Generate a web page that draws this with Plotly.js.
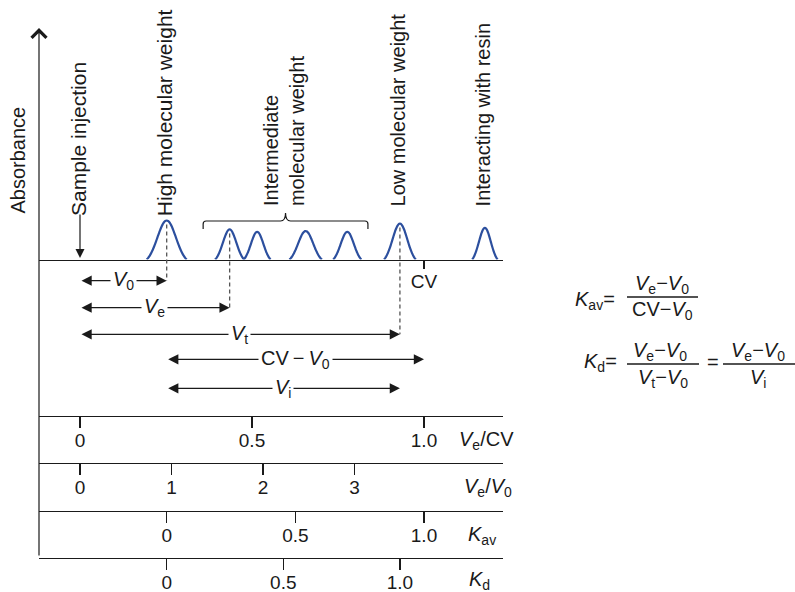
<!DOCTYPE html>
<html>
<head>
<meta charset="utf-8">
<script src="https://cdn.plot.ly/plotly-3.0.1.min.js"></script>
<style>
  html, body { margin: 0; padding: 0; background: #fff; }
  #chart { width: 795px; height: 592px; }
</style>
</head>
<body>
<div id="chart"></div>
<script>
// ---- Elution data, in units of column volume (Ve/CV) ----
const injection = 0;
const columnVolume = 1.0;
const peakCenters    = [0.252, 0.435, 0.515, 0.656, 0.777, 0.930, 1.177];
const peakHeights    = [1.00, 0.77, 0.71, 0.73, 0.71, 0.92, 0.81];
const peakHalfWidths = [0.058, 0.042, 0.039, 0.047, 0.041, 0.046, 0.037];
const intermediateSpan = [0.358, 0.837];   // extent of the bracket over the intermediate peaks

const V0 = peakCenters[0];   // void volume: excluded, high molecular weight
const Ve = peakCenters[1];   // example elution volume
const Vt = peakCenters[5];   // total permeation: low molecular weight

// ---- Scales drawn under the chromatogram ----
const veCvTicks = [0, 0.5, 1.0];   const veCvText = ['0', '0.5', '1.0'];
const veV0Ticks = [0, 1, 2, 3];    const veV0Text = ['0', '1', '2', '3'];
const kavTicks  = [0, 0.5, 1.0];   const kavText  = ['0', '0.5', '1.0'];
const kdTicks   = [0, 0.5, 1.0];   const kdText   = ['0', '0.5', '1.0'];
const veV0Spacing = 0.266;         // Ve/CV distance between successive Ve/V0 marks

// ---- Page geometry ----
const W = 795, H = 592;
const px = x => x / W;        // pixel column -> paper
const py = y => 1 - y / H;    // pixel row -> paper
const font = 'Liberation Sans, Arial, Helvetica, sans-serif';
const ink = '#1a1a1a';
const blue = '#2c4f9e';

const frameLeft = 39, frameRight = 503, baselineRow = 259.5;
const originCol = 80, pxPerUnit = 344, pxPerAbs = 39;
const xRange = [(frameLeft - originCol) / pxPerUnit, (frameRight - originCol) / pxPerUnit];
const xDomain = [px(frameLeft), px(frameRight)];

// ---- Peak outlines: Gaussian bands cut at about two sigma ----
function peakCurve(c, h, w) {
  const k = 2.15, n = 48, e0 = Math.exp(-k * k / 2);
  const xs = [], ys = [];
  for (let i = 0; i <= n; i++) {
    const u = -1 + 2 * i / n;
    xs.push(c + u * w);
    ys.push(h * (Math.exp(-(k * u) * (k * u) / 2) - e0) / (1 - e0));
  }
  return { xs, ys };
}

const traces = peakCenters.map((c, i) => {
  const p = peakCurve(c, peakHeights[i], peakHalfWidths[i]);
  return {
    type: 'scatter', mode: 'lines', x: p.xs, y: p.ys,
    xaxis: 'x', yaxis: 'y',
    line: { color: blue, width: 2.2, shape: 'spline' },
    hoverinfo: 'skip', showlegend: false
  };
});

// hold each scale axis
[['x2', veCvTicks], ['x3', veV0Ticks], ['x4', kavTicks], ['x5', kdTicks]].forEach(([ax, t]) => {
  traces.push({ type: 'scatter', mode: 'markers', x: t, y: t.map(() => null),
    xaxis: ax, yaxis: 'y', hoverinfo: 'skip', showlegend: false });
});

function scaleAxis(row, range, tickvals, ticktext) {
  return {
    domain: xDomain, range, overlaying: 'x', anchor: 'free', position: py(row), side: 'bottom',
    showline: true, linecolor: ink, linewidth: 1.3,
    ticks: 'outside', ticklen: 11, tickwidth: 1.3, tickcolor: ink,
    ticklabelstandoff: -4,
    tickvals, ticktext, tickfont: { family: font, size: 19, color: ink },
    showgrid: false, zeroline: false, fixedrange: true
  };
}

const kavRange = xRange.map(v => (v - V0) / (columnVolume - V0));
const kdRange  = xRange.map(v => (v - V0) / (Vt - V0));
const veV0Range = xRange.map(v => v / veV0Spacing);

// ---- Annotations ----
const ann = [];
const txt = (text, x, y, opt) => Object.assign({
  text, x, y, xref: 'paper', yref: 'paper', showarrow: false,
  xanchor: 'center', yanchor: 'middle',
  font: { family: font, size: 20, color: ink }, borderpad: 0
}, opt || {});
const f20 = { family: font, size: 20, color: ink };
const f21 = { family: font, size: 21, color: ink };
const upright = (font) => ({ textangle: -90, yanchor: 'bottom', xshift: -2, font });

// vertical axis with open arrow head
ann.push({ x: px(frameLeft), y: py(28), xref: 'paper', yref: 'paper', ax: 0, ay: 529,
  axref: 'pixel', ayref: 'pixel', text: '', showarrow: true, arrowhead: 4,
  arrowsize: 2.4, arrowwidth: 1.2, arrowcolor: ink, standoff: 0 });
ann.push(txt('Absorbance', px(19), py(215), upright(f20)));

// sample injection marker
ann.push({ x: injection, y: py(258), xref: 'x', yref: 'paper', ax: 0, ay: -45,
  axref: 'pixel', ayref: 'pixel', text: '', showarrow: true, arrowhead: 2,
  arrowsize: 1.5, arrowwidth: 1.2, arrowcolor: ink, standoff: 0 });
ann.push(txt('Sample injection', injection, py(217), Object.assign({ xref: 'x' }, upright(f21))));

// peak group labels
const braceMid = (intermediateSpan[0] + intermediateSpan[1]) / 2;
ann.push(txt('High molecular weight', V0, py(217), Object.assign({ xref: 'x' }, upright(f21))));
ann.push(txt('Intermediate<br>molecular weight', braceMid, py(207), Object.assign({ xref: 'x', align: 'left' }, upright(f20))));
ann.push(txt('Low molecular weight', Vt, py(207), Object.assign({ xref: 'x' }, upright(f20))));
ann.push(txt('Interacting with resin', peakCenters[6], py(207), Object.assign({ xref: 'x' }, upright(f20))));

// volume spans
const spans = [
  { label: '<i>V</i><sub>0</sub>', from: injection, to: V0, row: 280.7 },
  { label: '<i>V</i><sub>e</sub>', from: injection, to: Ve, row: 307.7 },
  { label: '<i>V</i><sub>t</sub>', from: injection, to: Vt, row: 334.3 },
  { label: 'CV\u2009\u2212\u2009<i>V</i><sub>0</sub>', from: V0, to: columnVolume, row: 359.3 },
  { label: '<i>V</i><sub>i</sub>', from: V0, to: Vt, row: 388.3 }
];
spans.forEach(s => {
  ann.push({ x: s.to, y: py(s.row), xref: 'x', yref: 'paper', ax: s.from, ay: 0,
    axref: 'x', ayref: 'pixel', text: '', showarrow: true, arrowside: 'end+start',
    arrowhead: 2, startarrowhead: 2, arrowsize: 1.7, startarrowsize: 1.7,
    arrowwidth: 1.2, arrowcolor: ink, standoff: 0, startstandoff: 0 });
});
spans.forEach(s => {
  ann.push(txt(s.label, (s.from + s.to) / 2, py(s.row), { xref: 'x', bgcolor: '#ffffff', borderpad: 2 }));
});

// scale names
ann.push(txt('<i>V</i><sub>e</sub>/CV', px(458), py(440), { xanchor: 'left' }));
ann.push(txt('<i>V</i><sub>e</sub>/<i>V</i><sub>0</sub>', px(463), py(487), { xanchor: 'left' }));
ann.push(txt('<i>K</i><sub>av</sub>', px(467), py(535), { xanchor: 'left' }));
ann.push(txt('<i>K</i><sub>d</sub>', px(468), py(580), { xanchor: 'left' }));

// definitions
const num = '<i>V</i><sub>e</sub>\u2212<i>V</i><sub>0</sub>';
ann.push(txt('<i>K</i><sub>av</sub>=', px(616), py(300), { xanchor: 'right' }));
ann.push(txt(num, px(662), py(284)));
ann.push(txt('CV\u2212<i>V</i><sub>0</sub>', px(662), py(310)));
ann.push(txt('<i>K</i><sub>d</sub>=', px(618), py(362), { xanchor: 'right' }));
ann.push(txt(num, px(660), py(351)));
ann.push(txt('<i>V</i><sub>t</sub>\u2212<i>V</i><sub>0</sub>', px(663), py(378)));
ann.push(txt('=', px(713), py(362)));
ann.push(txt(num, px(758), py(351)));
ann.push(txt('<i>V</i><sub>i</sub>', px(758), py(378)));

// ---- Shapes ----
const shapes = [];
const peakTopRow = h => baselineRow - h * pxPerAbs;
[[V0, peakHeights[0], 280.7], [Ve, peakHeights[1], 307.7], [Vt, peakHeights[5], 334.3]].forEach(([x, h, row]) => {
  shapes.push({ type: 'line', xref: 'x', yref: 'paper', x0: x, x1: x,
    y0: py(peakTopRow(h) + 4), y1: py(row),
    line: { color: '#555', width: 1.3, dash: '4px,3px' } });
});

// bracket over intermediate peaks
(function () {
  const [a, b] = intermediateSpan, m = braceMid;
  const r = 3 / pxPerUnit, r2 = 5 / pxPerUnit;
  const yTop = py(221), yEnd = py(229), yTip = py(213), yR = py(224);
  const path = `M${a},${yEnd} L${a},${yR} Q${a},${yTop} ${a + r},${yTop} L${m - r2},${yTop} ` +
    `Q${m},${yTop} ${m},${yTip} Q${m},${yTop} ${m + r2},${yTop} L${b - r},${yTop} ` +
    `Q${b},${yTop} ${b},${yR} L${b},${yEnd}`;
  shapes.push({ type: 'path', xref: 'x', yref: 'paper', path, line: { color: ink, width: 1.2 } });
})();

// fraction bars
[[627, 698, 297], [627, 699, 364], [723, 795, 364]].forEach(([x0, x1, y]) => {
  shapes.push({ type: 'line', xref: 'paper', yref: 'paper', x0: px(x0), x1: px(x1), y0: py(y), y1: py(y),
    line: { color: ink, width: 1.3 } });
});

const layout = {
  width: W, height: H, margin: { l: 0, r: 0, t: 0, b: 0 },
  paper_bgcolor: '#fff', plot_bgcolor: 'rgba(0,0,0,0)', showlegend: false,
  xaxis: {
    domain: xDomain, range: xRange, anchor: 'y',
    showline: true, linecolor: ink, linewidth: 1.3,
    ticks: 'outside', ticklen: 8, tickwidth: 1.3, tickcolor: ink,
    ticklabelstandoff: -4,
    tickvals: [columnVolume], ticktext: ['CV'],
    tickfont: { family: font, size: 19, color: ink },
    showgrid: false, zeroline: false, fixedrange: true
  },
  yaxis: {
    domain: [py(baselineRow), 1], range: [0, baselineRow / pxPerAbs],
    visible: false, fixedrange: true
  },
  xaxis2: scaleAxis(415.5, xRange, veCvTicks, veCvText),
  xaxis3: scaleAxis(463, veV0Range, veV0Ticks, veV0Text),
  xaxis4: scaleAxis(511, kavRange, kavTicks, kavText),
  xaxis5: scaleAxis(557.5, kdRange, kdTicks, kdText),
  annotations: ann,
  shapes: shapes
};

Plotly.newPlot('chart', traces, layout, { staticPlot: true, displayModeBar: false });
</script>
</body>
</html>
